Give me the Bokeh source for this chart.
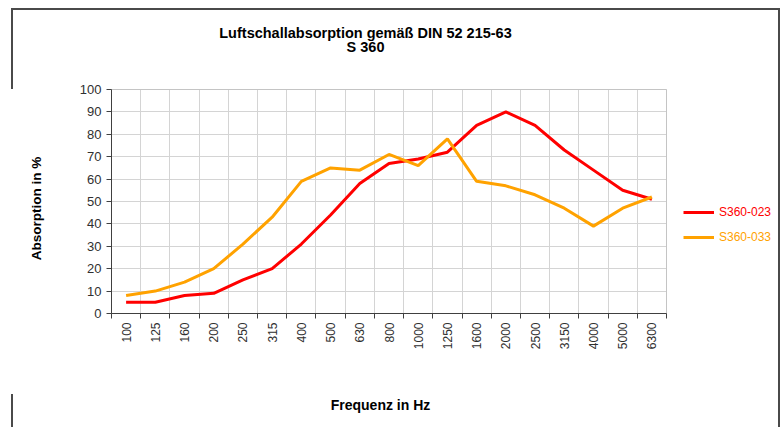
import math
from bokeh.plotting import figure
from bokeh.models import FixedTicker, Label, Legend, LegendItem, BoxAnnotation, Range1d
from bokeh.embed import file_html
from bokeh.resources import INLINE

# ---- data ----
freqs = ["100", "125", "160", "200", "250", "315", "400", "500", "630", "800",
         "1000", "1250", "1600", "2000", "2500", "3150", "4000", "5000", "6300"]
s360_023 = [5, 5, 8, 9, 15, 20, 31, 44, 58, 67, 69, 72, 84, 90, 84, 73, 64, 55, 51]
s360_033 = [8, 10, 14, 20, 31, 43, 59, 65, 64, 71, 66, 78, 59, 57, 53, 47, 39, 47, 52]
series_names = ["S360-023", "S360-033"]
y_ticks = list(range(0, 101, 10))

title_1 = "Luftschallabsorption gemäß DIN 52 215-63"
title_2 = "S 360"
y_title = "Absorption in %"
x_title = "Frequenz in Hz"

FONT = "Liberation Sans"
RED = "#FF0000"
ORANGE = "#FFA200"
W, H = 782, 427
PL, PR, PT, PB = 111, 666, 89, 313   # plot-area edges on the canvas (px)

n = len(freqs)
xs = list(range(n))
bounds = [i - 0.5 for i in range(n + 1)]
cat_w = (PR - PL) / n
unit_h = (PB - PT) / 100.0
x_start = -0.5 - PL / cat_w
x_end = -0.5 + (W - PL) / cat_w
y_start = -(H - PB) / unit_h
y_end = 100 + PT / unit_h

p = figure(width=W, height=H, output_backend="svg", toolbar_location=None,
           x_range=Range1d(x_start, x_end), y_range=Range1d(y_start, y_end),
           min_border=0)
p.outline_line_color = None
p.background_fill_alpha = 0
p.border_fill_alpha = 0

# outer (partial) frame of the original screenshot, drawn as CSS background lines
p.styles = {
    "background-color": "white",
    "background-image": ", ".join(["linear-gradient(#4a4a4a, #4a4a4a)"] * 4),
    "background-size": "768px 2px, 2px 419px, 2px 81px, 2px 33px",
    "background-position": "12px 8px, 778px 8px, 11px 8px, 11px 394px",
    "background-repeat": "no-repeat",
}

# plot area border
p.add_layout(BoxAnnotation(left=-0.5, right=n - 0.5, bottom=0, top=100,
                           fill_alpha=0, line_color="#a0a0a0", line_width=1,
                           level="underlay"))

# axes, pinned to the plot-area edges
p.xaxis.fixed_location = 0
p.yaxis.fixed_location = -0.5
p.xaxis.ticker = FixedTicker(ticks=xs, minor_ticks=bounds)
p.xaxis.bounds = (-0.5, n - 0.5)
p.xaxis.major_label_overrides = {i: f for i, f in enumerate(freqs)}
p.xaxis.major_label_orientation = math.pi / 2
p.xaxis.major_tick_line_color = None
p.xaxis.major_tick_out = 5
p.xaxis.major_tick_in = 0
p.xaxis.minor_tick_out = 5
p.xaxis.minor_tick_in = 0
p.xaxis.minor_tick_line_color = "#404040"
p.xaxis.major_label_standoff = 4
p.xaxis.major_label_text_font_size = "12px"

p.yaxis.ticker = FixedTicker(ticks=y_ticks)
p.yaxis.bounds = (0, 100)
p.yaxis.major_tick_out = 5
p.yaxis.major_tick_in = 0
p.yaxis.major_tick_line_color = "#404040"
p.yaxis.minor_tick_line_color = None
p.yaxis.major_label_standoff = 5
p.yaxis.major_label_text_font_size = "13px"

for ax in (p.xaxis[0], p.yaxis[0]):
    ax.axis_line_color = "#404040"
    ax.major_label_text_font = FONT
    ax.major_label_text_color = "#303030"

# grid limited to the plot area
p.xgrid.ticker = FixedTicker(ticks=bounds)
p.xgrid.bounds = (-0.5, n - 0.5)
p.xgrid.cross_bounds = (0, 100)
p.ygrid.ticker = FixedTicker(ticks=y_ticks)
p.ygrid.bounds = (0, 100)
p.ygrid.cross_bounds = (-0.5, n - 0.5)
p.xgrid.grid_line_color = "#d4d4d4"
p.ygrid.grid_line_color = "#d4d4d4"

# lines
r1 = p.line(xs, s360_023, line_color=RED, line_width=3)
r2 = p.line(xs, s360_033, line_color=ORANGE, line_width=3)

# legends (separate so each label gets its own colour)
for r, name, col, ly in ((r1, series_names[0], RED, 208), (r2, series_names[1], ORANGE, 183)):
    lg = Legend(items=[LegendItem(label=name, renderers=[r])], location=(683, ly),
                glyph_width=31, glyph_height=14, label_height=14, label_standoff=5,
                padding=0, margin=0, border_line_color=None, background_fill_alpha=0,
                label_text_font=FONT, label_text_font_size="12px", label_text_color=col)
    p.add_layout(lg)

# texts: title (two lines) and axis titles
texts = [
    (title_1, 365, 32, 0, "14.5px"),
    (title_2, 365, 46, 0, "14.5px"),
    (y_title, 36, 208, math.pi / 2, "13.5px"),
    (x_title, 380, 404, 0, "14px"),
]
for txt, tx, ty, ang, fs in texts:
    p.add_layout(Label(x=tx, y=ty, x_units="canvas", y_units="canvas", text=txt,
                       angle=ang, text_align="center", text_baseline="middle",
                       text_font=FONT, text_font_style="bold", text_font_size=fs,
                       text_color="#000000"))

open("out.html", "w").write(file_html(p, INLINE))
